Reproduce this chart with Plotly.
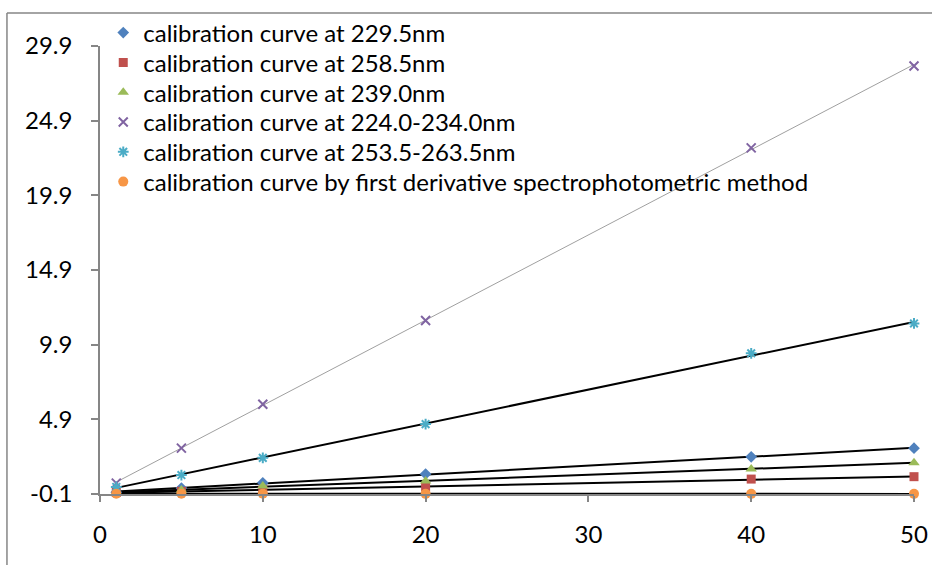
import numpy as np
import plotly.graph_objects as go

conc = [1, 5, 10, 20, 40, 50]
series_names = [
    "calibration curve at 229.5nm",
    "calibration curve at 258.5nm",
    "calibration curve at 239.0nm",
    "calibration curve at 224.0-234.0nm",
    "calibration curve at 253.5-263.5nm",
    "calibration curve by first derivative spectrophotometric method",
]
s_229 = [0.02, 0.30, 0.65, 1.24, 2.39, 2.97]
s_258 = [0.00, 0.08, 0.17, 0.37, 0.90, 1.06]
s_239 = [0.01, 0.17, 0.43, 0.77, 1.57, 2.00]
s_224_234 = [0.63, 2.97, 5.91, 11.52, 23.08, 28.56]
s_253_263 = [0.37, 1.17, 2.32, 4.58, 9.32, 11.32]
s_deriv = [-0.08, -0.08, -0.08, -0.09, -0.09, -0.09]
values = [s_229, s_258, s_239, s_224_234, s_253_263, s_deriv]

y_ticks = [-0.1, 4.9, 9.9, 14.9, 19.9, 24.9, 29.9]
x_ticks = [0, 10, 20, 30, 40, 50]

colors = ["#4F81BD", "#C0504D", "#9BBB59", "#8064A2", "#4BACC6", "#F79646"]
symbols = ["diamond", "square", "triangle-up", "x-thin-open", "asterisk-open", "circle"]
sizes = [9, 9, 10, 9, 9, 10]
trend_colors = ["black", "black", "black", "#A0A0A0", "black", "black"]
trend_widths = [2, 2, 2, 1, 2, 2]

FONT = "Lato"
fig = go.Figure()

# trendlines (linear least-squares fits)
xa = np.array(conc, dtype=float)
for i, ys in enumerate(values):
    k, b = np.polyfit(xa, np.array(ys), 1)
    xs = [conc[0], conc[-1]]
    fig.add_trace(go.Scatter(
        x=xs, y=[k * v + b for v in xs], mode="lines",
        line=dict(color=trend_colors[i], width=trend_widths[i]),
        showlegend=False, hoverinfo="skip", cliponaxis=False))

legend_ids = ["legend"] + [f"legend{j}" for j in range(2, 7)]
for i, ys in enumerate(values):
    mk = dict(color=colors[i], size=sizes[i], symbol=symbols[i])
    if symbols[i].endswith("open"):
        mk["line"] = dict(color=colors[i], width=2)
    fig.add_trace(go.Scatter(
        x=conc, y=ys, mode="markers", name=series_names[i],
        marker=mk, cliponaxis=False, legend=legend_ids[i]))

# one legend box per entry to reproduce the tight row spacing
plot_top, plot_bottom = 45, 494
row0, row_gap = 33, 29.8
legend_layout = {}
for i, lid in enumerate(legend_ids):
    center = row0 + i * row_gap
    legend_layout[lid] = dict(
        x=0.004, y=(plot_bottom - center) / (plot_bottom - plot_top),
        xanchor="left", yanchor="middle", bgcolor="rgba(0,0,0,0)",
        font=dict(family=FONT, size=24, color="black"), itemwidth=30)

fig.update_layout(
    width=932, height=565,
    margin=dict(l=100, r=18, t=45, b=71),
    paper_bgcolor="white", plot_bgcolor="white",
    font=dict(family=FONT, size=24, color="black"),
    showlegend=True,
    xaxis=dict(range=[0, 50], tickvals=x_ticks, showgrid=False, zeroline=False,
               showline=True, linecolor="#868686", linewidth=1.5, automargin=False,
               ticks="outside", ticklen=6, tickcolor="#868686", tickwidth=1.5,
               ticklabelstandoff=12),
    yaxis=dict(range=[-0.1, 29.9], tickvals=y_ticks, ticktext=[f"{v:.1f}" for v in y_ticks],
               showgrid=False, zeroline=False, automargin=False,
               showline=True, linecolor="#868686", linewidth=1.5,
               ticks="outside", ticklen=7, tickcolor="#868686", tickwidth=1.5,
               ticklabelstandoff=14),
    shapes=[
        dict(type="line", xref="paper", yref="paper", x0=-0.1143, x1=1.1,
             y0=1.0735, y1=1.0735, line=dict(color="#868686", width=1.5)),
        dict(type="line", xref="paper", yref="paper", x0=-0.1143, x1=-0.1143,
             y0=1.0735, y1=-0.2, line=dict(color="#868686", width=1.5)),
    ],
    **legend_layout,
)
fig.write_html("out.html", post_script="document.body.style.margin='0';",
               config={"displayModeBar": False})
